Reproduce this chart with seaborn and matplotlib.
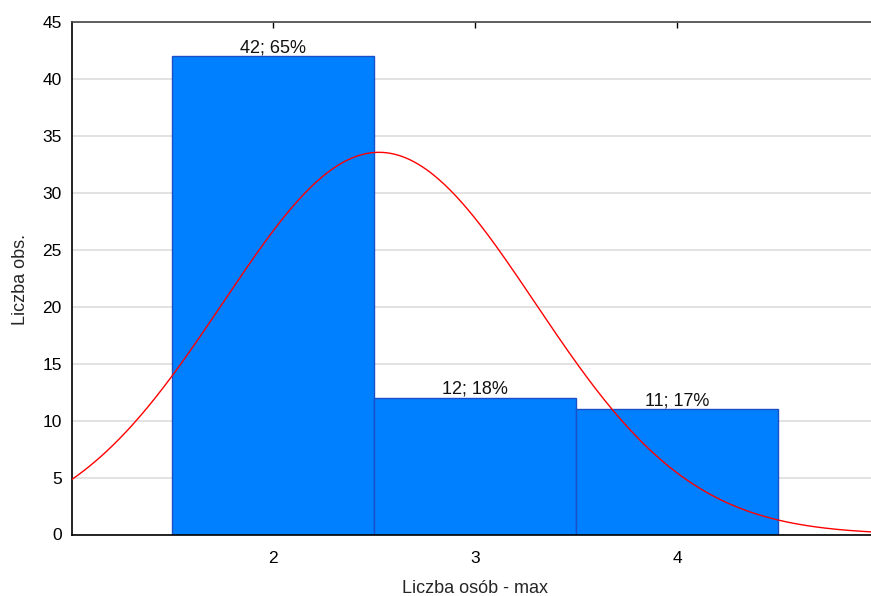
import numpy as np
import pandas as pd
import matplotlib
matplotlib.use("Agg")
import matplotlib.pyplot as plt
import seaborn as sns

# Data
categories = [2, 3, 4]
counts = [42, 12, 11]
percents = [65, 18, 17]
y_ticks = [0, 5, 10, 15, 20, 25, 30, 35, 40, 45]
x_ticks = [2, 3, 4]

sns.set_theme(style="white")
plt.rcParams['font.family'] = ['Liberation Sans', 'DejaVu Sans']

fig = plt.figure(figsize=(8.71, 5.96), dpi=100)
ax = fig.add_axes([71.5 / 871, 1 - 534.5 / 596, (871 - 71.5) / 871, (534.5 - 22) / 596])

df = pd.DataFrame({"x": categories, "n": counts})
sns.histplot(data=df, x="x", weights="n", discrete=True, shrink=1.0,
             color="#0080FF", edgecolor="#1A4FC8", linewidth=1.0, alpha=1.0,
             ax=ax, zorder=2)

# fitted normal curve from the data
vals = np.repeat(categories, counts)
mu = vals.mean()
sd = vals.std(ddof=1)
N = len(vals)
xs = np.linspace(1.0, 4.96, 400)
ys = N * 1.0 / (sd * np.sqrt(2 * np.pi)) * np.exp(-0.5 * ((xs - mu) / sd) ** 2)
sns.lineplot(x=xs, y=ys, color="#FF0000", linewidth=1.0, ax=ax, zorder=3)

for c, n, p in zip(categories, counts, percents):
    ax.text(c, n + 0.35, f"{n}; {p}%", ha="center", va="baseline", fontsize=13, color="#111111", zorder=4)

ax.set_xlim(1.0, 4.96)
ax.set_ylim(0, 45)
ax.set_yticks(y_ticks)
ax.set_xticks(x_ticks)
ax.yaxis.grid(True, color="#DDDDDD", linewidth=1.2, zorder=0)
ax.xaxis.grid(False)
ax.set_axisbelow(True)

for s in ["left", "bottom"]:
    ax.spines[s].set_color("#000000")
    ax.spines[s].set_linewidth(1.2)
ax.spines["top"].set_color("#444444")
ax.spines["top"].set_linewidth(1.2)
ax.spines["right"].set_visible(False)

ax.tick_params(axis="both", which="major", labelsize=12.5, colors="#000000", length=4, width=1, direction="out")
ax.tick_params(axis="x", pad=8)
ax.tick_params(axis="y", pad=3)
sec = ax.secondary_xaxis("top")
sec.set_xticks(x_ticks)
sec.tick_params(direction="in", length=4, width=1, labeltop=False, colors="#000000")
sec.spines["top"].set_visible(False)

ax.set_xlabel("Liczba osób - max", fontsize=13)
ax.xaxis.label.set_va("baseline")
ax.xaxis.set_label_coords(0.5045, (534.5 - 593) / 512.5)
ax.set_ylabel("Liczba obs.", fontsize=13)
ax.yaxis.set_label_coords((29 - 71.5) / 799.5, 0.497)

fig.savefig("out.png", dpi=100)
